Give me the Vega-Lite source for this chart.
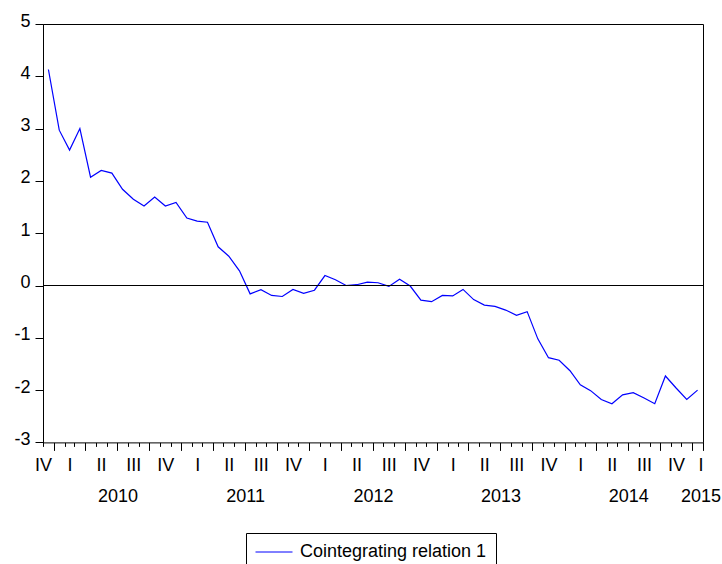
{
  "$schema": "https://vega.github.io/schema/vega-lite/v6.json",
  "width": 660,
  "height": 418.4,
  "autosize": {"type": "none"},
  "padding": {"left": 43, "top": 24, "right": 19, "bottom": 121.6},
  "background": "#ffffff",
  "config": {
    "font": "Liberation Sans",
    "view": {"stroke": "#000000", "strokeWidth": 1},
    "axis": {
      "labelFont": "Liberation Sans",
      "labelFontSize": 18,
      "labelColor": "#000000",
      "tickColor": "#000000",
      "domainColor": "#000000",
      "tickWidth": 1,
      "domainWidth": 1,
      "grid": false,
      "title": null
    }
  },
  "data": {
    "values": [
      {"date": "2009-12-01", "value": 4.13},
      {"date": "2010-01-01", "value": 2.97},
      {"date": "2010-02-01", "value": 2.59},
      {"date": "2010-03-01", "value": 3.00},
      {"date": "2010-04-01", "value": 2.07},
      {"date": "2010-05-01", "value": 2.20},
      {"date": "2010-06-01", "value": 2.15},
      {"date": "2010-07-01", "value": 1.84},
      {"date": "2010-08-01", "value": 1.65},
      {"date": "2010-09-01", "value": 1.52},
      {"date": "2010-10-01", "value": 1.69},
      {"date": "2010-11-01", "value": 1.52},
      {"date": "2010-12-01", "value": 1.59},
      {"date": "2011-01-01", "value": 1.29},
      {"date": "2011-02-01", "value": 1.23},
      {"date": "2011-03-01", "value": 1.21},
      {"date": "2011-04-01", "value": 0.74},
      {"date": "2011-05-01", "value": 0.56},
      {"date": "2011-06-01", "value": 0.28},
      {"date": "2011-07-01", "value": -0.16},
      {"date": "2011-08-01", "value": -0.08},
      {"date": "2011-09-01", "value": -0.19},
      {"date": "2011-10-01", "value": -0.21},
      {"date": "2011-11-01", "value": -0.075},
      {"date": "2011-12-01", "value": -0.15},
      {"date": "2012-01-01", "value": -0.09},
      {"date": "2012-02-01", "value": 0.19},
      {"date": "2012-03-01", "value": 0.11},
      {"date": "2012-04-01", "value": 0.0},
      {"date": "2012-05-01", "value": 0.015},
      {"date": "2012-06-01", "value": 0.065},
      {"date": "2012-07-01", "value": 0.053},
      {"date": "2012-08-01", "value": -0.017},
      {"date": "2012-09-01", "value": 0.12},
      {"date": "2012-10-01", "value": -0.01},
      {"date": "2012-11-01", "value": -0.28},
      {"date": "2012-12-01", "value": -0.31},
      {"date": "2013-01-01", "value": -0.19},
      {"date": "2013-02-01", "value": -0.20},
      {"date": "2013-03-01", "value": -0.075},
      {"date": "2013-04-01", "value": -0.27},
      {"date": "2013-05-01", "value": -0.375},
      {"date": "2013-06-01", "value": -0.40},
      {"date": "2013-07-01", "value": -0.47},
      {"date": "2013-08-01", "value": -0.57},
      {"date": "2013-09-01", "value": -0.50},
      {"date": "2013-10-01", "value": -1.02},
      {"date": "2013-11-01", "value": -1.38},
      {"date": "2013-12-01", "value": -1.43},
      {"date": "2014-01-01", "value": -1.63},
      {"date": "2014-02-01", "value": -1.90},
      {"date": "2014-03-01", "value": -2.01},
      {"date": "2014-04-01", "value": -2.18},
      {"date": "2014-05-01", "value": -2.26},
      {"date": "2014-06-01", "value": -2.09},
      {"date": "2014-07-01", "value": -2.05},
      {"date": "2014-08-01", "value": -2.15},
      {"date": "2014-09-01", "value": -2.26},
      {"date": "2014-10-01", "value": -1.73},
      {"date": "2014-11-01", "value": -1.96},
      {"date": "2014-12-01", "value": -2.18},
      {"date": "2015-01-01", "value": -2.00}
    ]
  },
  "layer": [
    {
      "mark": {"type": "line", "strokeWidth": 1.2, "interpolate": "linear"},
      "encoding": {
        "x": {
          "field": "date",
          "timeUnit": "utcyearmonth",
          "type": "temporal",
          "bandPosition": 0.5,
          "scale": {
            "type": "utc",
            "domain": [
              {"year": 2009, "month": 12, "date": 1, "utc": true},
              {"year": 2015, "month": 2, "date": 1, "utc": true}
            ]
          },
          "axis": {
            "orient": "bottom",
            "tickCount": {"interval": "month", "step": 1},
            "labels": false,
            "domain": false,
            "tickSize": {
              "condition": {"test": "utcmonth(datum.value) % 3 == 0 || datum.value >= utc(2015, 1, 1)", "value": 8},
              "value": 4
            }
          }
        },
        "y": {
          "field": "value",
          "type": "quantitative",
          "scale": {"domain": [-3, 5], "nice": false, "zero": false},
          "axis": {
            "values": [-3, -2, -1, 0, 1, 2, 3, 4, 5],
            "labelExpr": "'' + datum.value",
            "tickSize": 8,
            "labelPadding": 5,
            "labelOffset": -3,
            "domain": true
          }
        },
        "color": {
          "datum": "Cointegrating relation 1",
          "type": "nominal",
          "scale": {"range": ["#0000ff"]},
          "legend": {
            "orient": "none",
            "legendX": 203,
            "legendY": 509,
            "title": null,
            "direction": "vertical",
            "symbolType": "stroke",
            "symbolSize": 1369,
            "symbolStrokeWidth": 1,
            "clipHeight": 20,
            "labelFont": "Liberation Sans",
            "labelFontSize": 18,
            "labelColor": "#000000",
            "labelOffset": 7,
            "labelLimit": 0,
            "strokeColor": "#000000",
            "fillColor": "#ffffff",
            "padding": 9
          }
        }
      }
    },
    {
      "mark": {"type": "rule", "color": "#000000", "strokeWidth": 1},
      "encoding": {
        "y": {"datum": 0, "type": "quantitative"},
        "x": {
          "datum": {"year": 2009, "month": 12, "date": 1, "utc": true},
          "type": "temporal",
          "scale": {"type": "utc"},
          "axis": {
            "orient": "bottom",
            "values": [
              {"year": 2009, "month": 12, "date": 1, "utc": true},
              {"year": 2010, "month": 2, "date": 15, "utc": true},
              {"year": 2010, "month": 5, "date": 16, "utc": true},
              {"year": 2010, "month": 7, "date": 2, "utc": true},
              {"year": 2010, "month": 8, "date": 16, "utc": true},
              {"year": 2010, "month": 11, "date": 16, "utc": true},
              {"year": 2011, "month": 2, "date": 15, "utc": true},
              {"year": 2011, "month": 5, "date": 16, "utc": true},
              {"year": 2011, "month": 7, "date": 2, "utc": true},
              {"year": 2011, "month": 8, "date": 16, "utc": true},
              {"year": 2011, "month": 11, "date": 16, "utc": true},
              {"year": 2012, "month": 2, "date": 15, "utc": true},
              {"year": 2012, "month": 5, "date": 16, "utc": true},
              {"year": 2012, "month": 7, "date": 2, "utc": true},
              {"year": 2012, "month": 8, "date": 16, "utc": true},
              {"year": 2012, "month": 11, "date": 16, "utc": true},
              {"year": 2013, "month": 2, "date": 15, "utc": true},
              {"year": 2013, "month": 5, "date": 16, "utc": true},
              {"year": 2013, "month": 7, "date": 2, "utc": true},
              {"year": 2013, "month": 8, "date": 16, "utc": true},
              {"year": 2013, "month": 11, "date": 16, "utc": true},
              {"year": 2014, "month": 2, "date": 15, "utc": true},
              {"year": 2014, "month": 5, "date": 16, "utc": true},
              {"year": 2014, "month": 7, "date": 2, "utc": true},
              {"year": 2014, "month": 8, "date": 16, "utc": true},
              {"year": 2014, "month": 11, "date": 16, "utc": true},
              {"year": 2015, "month": 2, "date": 1, "utc": true}
            ],
            "ticks": false,
            "domain": false,
            "labelFlush": false,
            "labelOverlap": false,
            "labelBound": false,
            "labelBaseline": "top",
            "labelLineHeight": 31,
            "labelExpr": "utcmonth(datum.value) == 6 ? '' + utcyear(datum.value) : (datum.value >= utc(2015, 1, 1) ? ['I', '2015'] : ['I', 'II', 'III', 'IV'][floor(utcmonth(datum.value) / 3)])",
            "labelOffset": {
              "condition": {"test": "datum.value >= utc(2015, 1, 1)", "value": -2.5},
              "value": 0
            },
            "labelPadding": {
              "condition": {"test": "utcmonth(datum.value) == 6", "value": 45},
              "value": 14
            }
          }
        },
        "x2": {"datum": {"year": 2015, "month": 2, "date": 1, "utc": true}}
      }
    }
  ],
  "resolve": {"axis": {"x": "independent"}}
}
